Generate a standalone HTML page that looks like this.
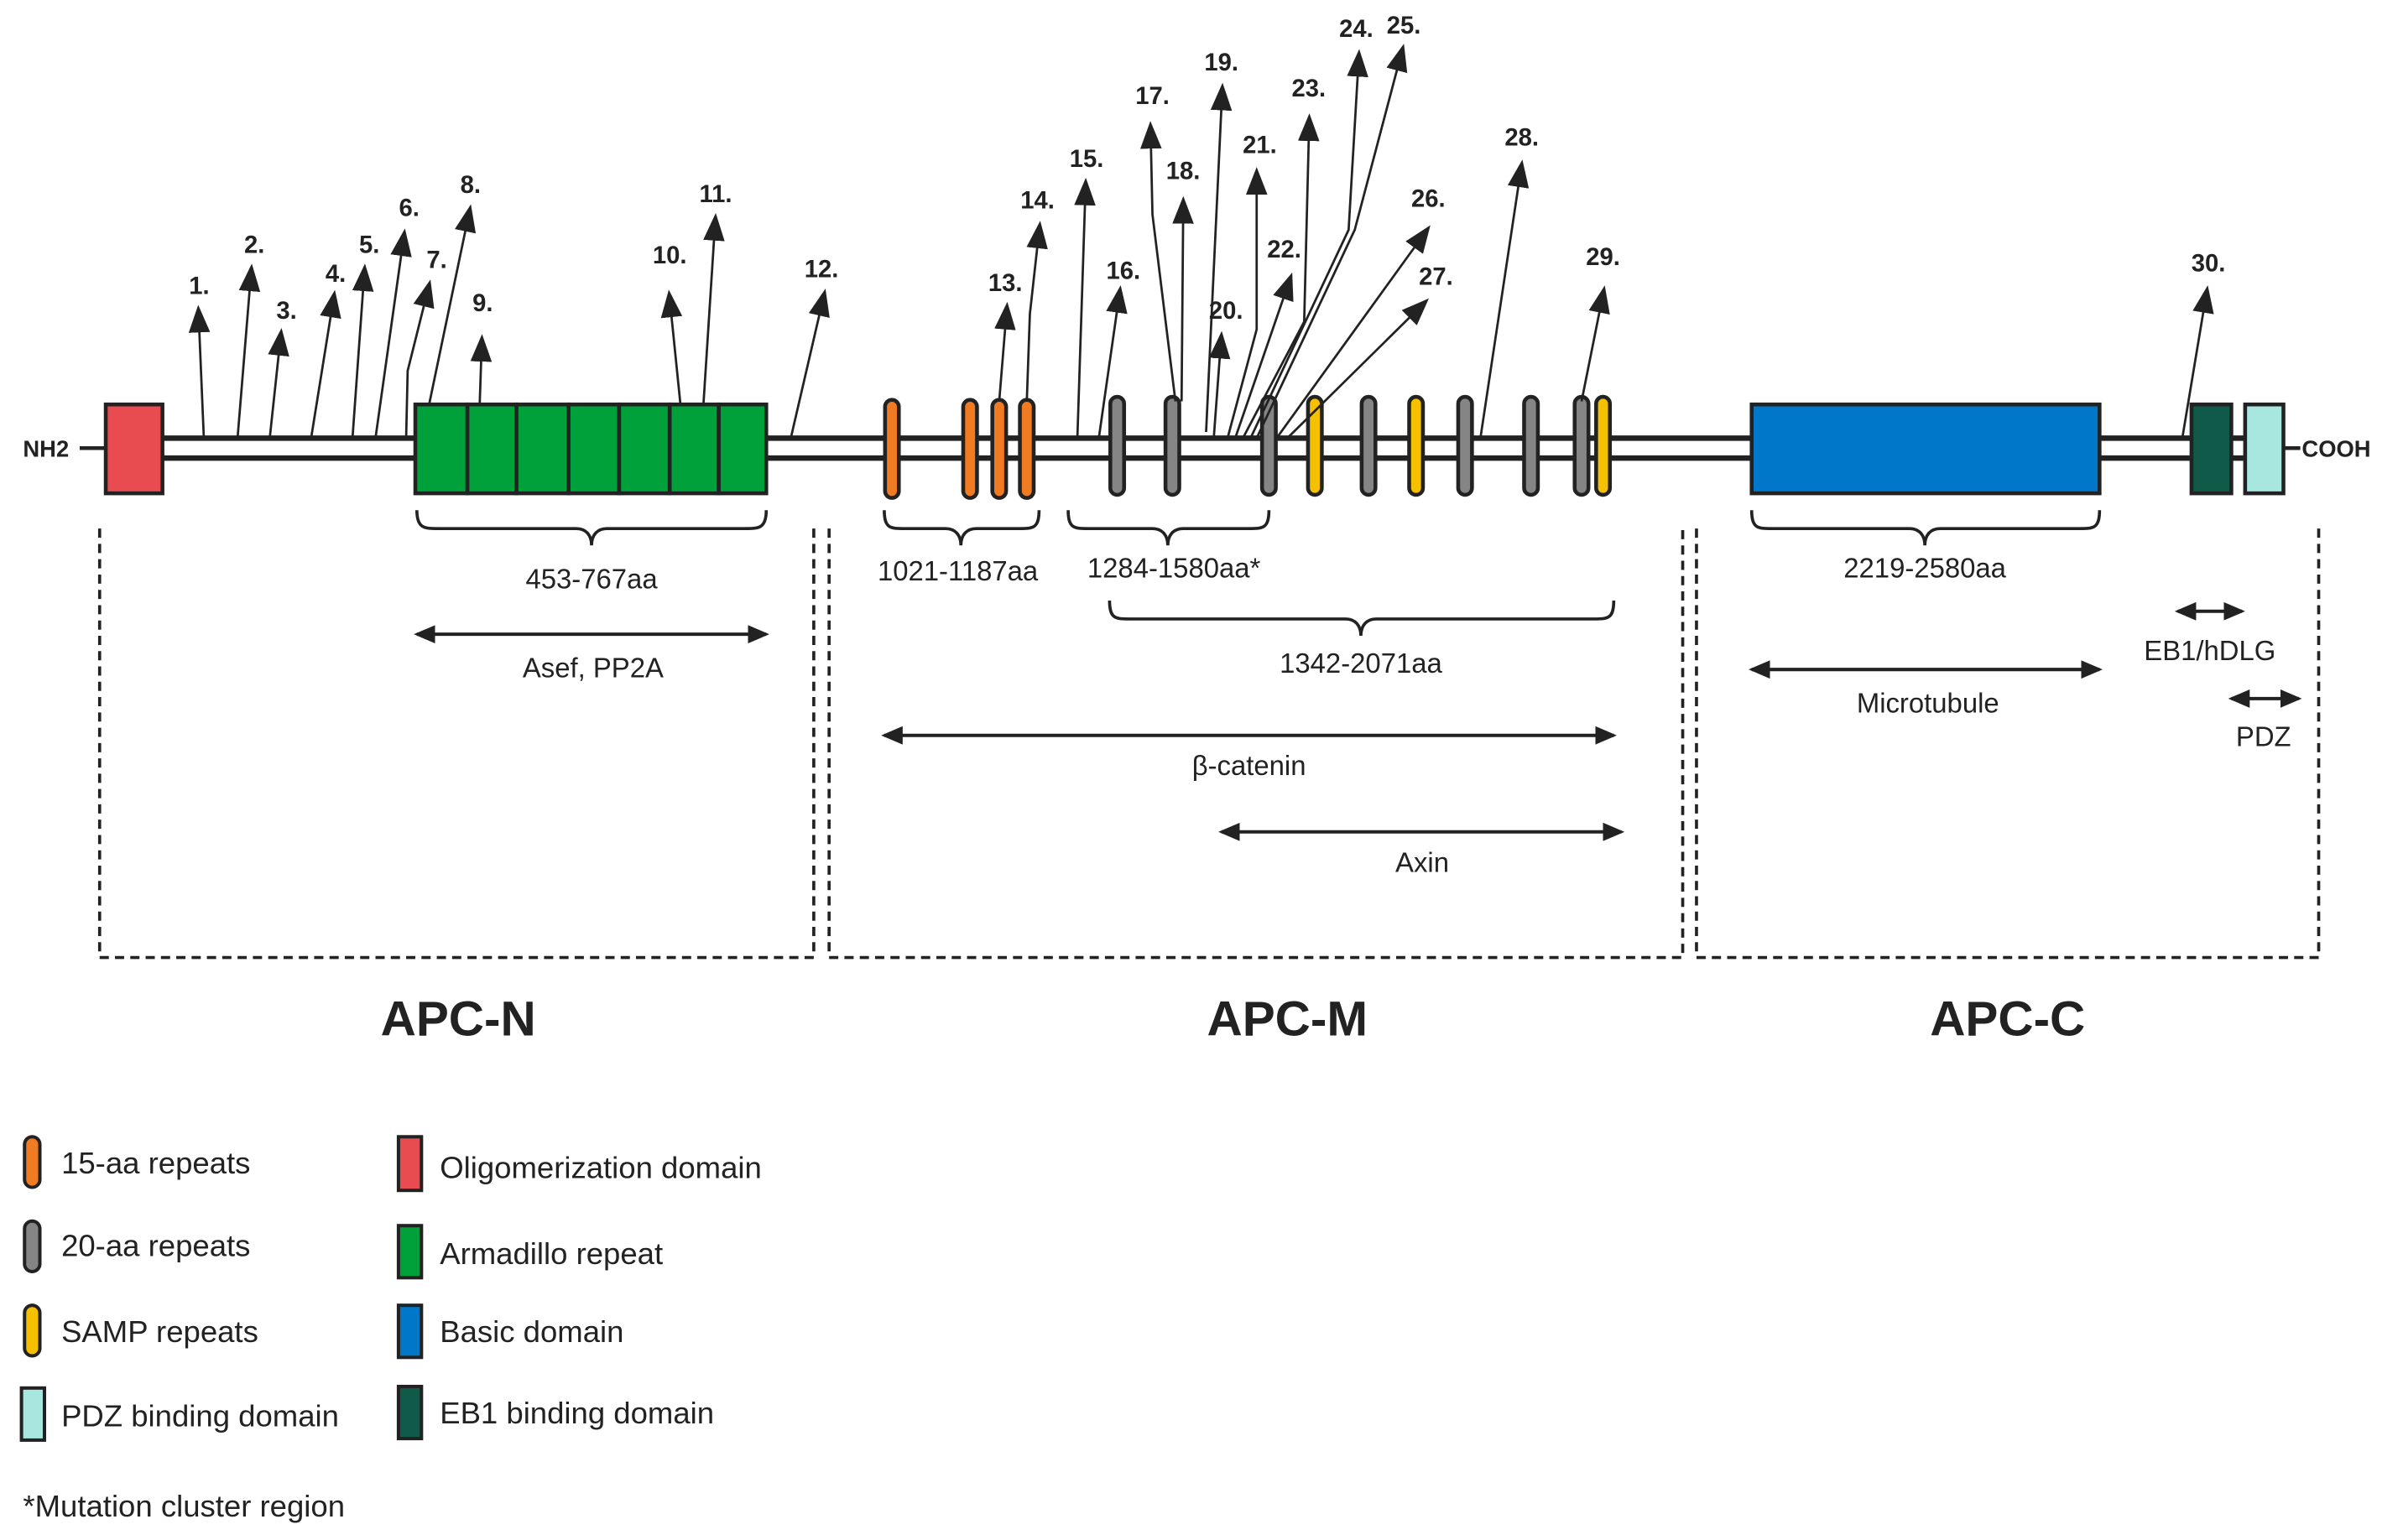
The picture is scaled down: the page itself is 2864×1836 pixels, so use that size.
<!DOCTYPE html>
<html><head><meta charset="utf-8"><style>
html,body{margin:0;padding:0;background:#fff;}
svg{display:block;}
text{font-family:"Liberation Sans",sans-serif;fill:#222;}
.n{font-weight:bold;font-size:16px;text-anchor:middle;}
.l{font-size:18px;text-anchor:middle;}
.g{font-size:20px;}
.t{font-weight:bold;font-size:32px;text-anchor:middle;}
</style></head><body>
<svg width="2864" height="1836" viewBox="0 0 1568 1005.2" xmlns="http://www.w3.org/2000/svg">
<defs>
<marker id="ah" markerUnits="userSpaceOnUse" markerWidth="20" markerHeight="20" refX="2" refY="7" orient="auto" viewBox="0 0 20 14">
<path d="M0,0 L18,7 L0,14 Z" fill="#222"/></marker>
<marker id="dh" markerUnits="userSpaceOnUse" markerWidth="14" markerHeight="12" refX="12" refY="6" orient="auto-start-reverse" viewBox="0 0 14 12">
<path d="M0,0 L14,6 L0,12 Z" fill="#222"/></marker>
</defs>

<!-- backbone -->
<line x1="52" y1="292.5" x2="69" y2="292.5" stroke="#222" stroke-width="2.5"/>
<line x1="1490" y1="292.5" x2="1501" y2="292.5" stroke="#222" stroke-width="2.5"/>
<line x1="104" y1="286" x2="1491" y2="286" stroke="#222" stroke-width="3.5"/>
<line x1="104" y1="299" x2="1491" y2="299" stroke="#222" stroke-width="3.5"/>
<text x="15" y="298" style="font-weight:bold;font-size:15px">NH2</text>
<text x="1502" y="298" style="font-weight:bold;font-size:15px">COOH</text>

<rect x="69" y="264" width="37" height="58" fill="#e84c50" stroke="#222" stroke-width="2.5"/>
<g fill="#00a03a" stroke="#222" stroke-width="2.5">
<rect x="271" y="264" width="34" height="58"/><rect x="305" y="264" width="32" height="58"/>
<rect x="337" y="264" width="34" height="58"/><rect x="371" y="264" width="33" height="58"/>
<rect x="404" y="264" width="33" height="58"/><rect x="437" y="264" width="32" height="58"/>
<rect x="469" y="264" width="31" height="58"/></g>
<g stroke="#222" stroke-width="2.5">
<g fill="#f07b22">
<rect x="577.5" y="261" width="9" height="64" rx="4.5"/><rect x="628.5" y="261" width="9" height="64" rx="4.5"/>
<rect x="647.5" y="261" width="9" height="64" rx="4.5"/><rect x="665.5" y="261" width="9" height="64" rx="4.5"/></g>
<g fill="#858585">
<rect x="724.5" y="259" width="9" height="64" rx="4.5"/><rect x="760.5" y="259" width="9" height="64" rx="4.5"/>
<rect x="823.5" y="259" width="9" height="64" rx="4.5"/><rect x="888.5" y="259" width="9" height="64" rx="4.5"/>
<rect x="951.5" y="259" width="9" height="64" rx="4.5"/><rect x="994.5" y="259" width="9" height="64" rx="4.5"/>
<rect x="1027.5" y="259" width="9" height="64" rx="4.5"/></g>
<g fill="#f5c000">
<rect x="853.5" y="259" width="9" height="64" rx="4.5"/><rect x="919.5" y="259" width="9" height="64" rx="4.5"/>
<rect x="1041.5" y="259" width="9" height="64" rx="4.5"/></g>
<rect x="1143" y="264" width="227" height="58" fill="#0077c8"/>
<rect x="1430" y="264" width="26" height="58" fill="#0f5a48"/>
<rect x="1465" y="264" width="25" height="58" fill="#a8e6e0"/>
</g>

<!-- mutation arrows -->
<g stroke="#222" stroke-width="1.5" fill="none" marker-end="url(#ah)">
<line x1="133" y1="286" x2="130" y2="215"/>
<line x1="155" y1="286" x2="163" y2="188"/>
<line x1="176" y1="286" x2="182" y2="230"/>
<line x1="203" y1="286" x2="216" y2="205"/>
<line x1="230" y1="286" x2="237" y2="188"/>
<line x1="245" y1="286" x2="262" y2="165"/>
<polyline points="265,286 266,242 277,198"/>
<line x1="280" y1="264" x2="304" y2="149"/>
<line x1="313" y1="264" x2="314" y2="234"/>
<line x1="444" y1="264" x2="438" y2="205"/>
<line x1="459" y1="264" x2="466" y2="155"/>
<line x1="516" y1="286" x2="535" y2="204"/>
<line x1="652" y1="262" x2="656" y2="213"/>
<polyline points="670,262 672,205 677,160"/>
<line x1="703" y1="286" x2="708" y2="132"/>
<line x1="717" y1="286" x2="729" y2="202"/>
<polyline points="767,262 752,140 751,95"/>
<line x1="771" y1="262" x2="772" y2="144"/>
<line x1="787" y1="282" x2="797" y2="70"/>
<line x1="792" y1="286" x2="796" y2="232"/>
<polyline points="801,286 820,215 820,125"/>
<line x1="806" y1="286" x2="838" y2="193"/>
<polyline points="811,286 851,210 854,90"/>
<polyline points="816,286 880,150 886,48"/>
<polyline points="820,286 884,150 912,44"/>
<line x1="833" y1="286" x2="924" y2="160"/>
<line x1="840" y1="286" x2="921" y2="206"/>
<line x1="966" y1="286" x2="991" y2="120"/>
<line x1="1032" y1="262" x2="1044" y2="202"/>
<line x1="1424" y1="286" x2="1438" y2="202"/>
</g>
<g class="n">
<text x="130" y="192">1.</text><text x="166" y="165">2.</text><text x="187" y="208">3.</text>
<text x="219" y="184">4.</text><text x="241" y="165">5.</text><text x="267" y="141">6.</text>
<text x="285" y="175">7.</text><text x="307" y="126">8.</text><text x="315" y="203">9.</text>
<text x="437" y="172">10.</text><text x="467" y="132">11.</text><text x="536" y="181">12.</text>
<text x="656" y="190">13.</text><text x="677" y="136">14.</text><text x="709" y="109">15.</text>
<text x="733" y="182">16.</text><text x="752" y="68">17.</text><text x="772" y="117">18.</text>
<text x="797" y="46">19.</text><text x="800" y="208">20.</text><text x="822" y="100">21.</text>
<text x="838" y="168">22.</text><text x="854" y="63">23.</text><text x="885" y="24">24.</text>
<text x="916" y="22">25.</text><text x="932" y="135">26.</text><text x="937" y="186">27.</text>
<text x="993" y="95">28.</text><text x="1046" y="173">29.</text><text x="1441" y="177">30.</text>
</g>

<!-- braces -->
<g stroke="#222" stroke-width="2" fill="none">
<path d="M272,333 C272,345 277,345 286,345 L376,345 C382,345 386,349 386,356 C386,349 390,345 396,345 L486,345 C495,345 500,345 500,333"/>
<path d="M577,333 C577,345 581,345 590,345 L617,345 C623,345 627,349 627,356 C627,349 631,345 637,345 L665,345 C674,345 678,345 678,333"/>
<path d="M697,333 C697,345 701,345 710,345 L752,345 C758,345 762,349 762,356 C762,349 766,345 772,345 L815,345 C824,345 828,345 828,333"/>
<path d="M724,392 C724,404 728,404 737,404 L878,404 C884,404 888,408 888,415 C888,408 892,404 898,404 L1040,404 C1049,404 1053,404 1053,392"/>
<path d="M1143,333 C1143,345 1147,345 1156,345 L1246,345 C1252,345 1256,349 1256,356 C1256,349 1260,345 1266,345 L1357,345 C1366,345 1370,345 1370,333"/>
</g>
<g class="l">
<text x="386" y="384">453-767aa</text><text x="625" y="379">1021-1187aa</text>
<text x="766" y="377">1284-1580aa*</text><text x="888" y="439">1342-2071aa</text>
<text x="1256" y="377">2219-2580aa</text>
</g>

<!-- interaction arrows -->
<g stroke="#222" stroke-width="2.2" marker-start="url(#dh)" marker-end="url(#dh)">
<line x1="272" y1="414" x2="500" y2="414"/>
<line x1="577" y1="480" x2="1053" y2="480"/>
<line x1="797" y1="543" x2="1058" y2="543"/>
<line x1="1143" y1="437" x2="1370" y2="437"/>
<line x1="1421" y1="399" x2="1463" y2="399"/>
<line x1="1456" y1="456" x2="1500" y2="456"/>
</g>
<g class="l">
<text x="387" y="442">Asef, PP2A</text><text x="815" y="506">β-catenin</text>
<text x="928" y="569">Axin</text><text x="1258" y="465">Microtubule</text>
<text x="1442" y="431">EB1/hDLG</text><text x="1477" y="487">PDZ</text>
</g>

<!-- dashed boxes -->
<g stroke="#222" stroke-width="2" stroke-dasharray="6,4" fill="none">
<path d="M65,345 L65,625 L531,625 L531,345"/>
<path d="M541,345 L541,625 L1098,625 L1098,345"/>
<path d="M1107,345 L1107,625 L1513,625 L1513,345"/>
</g>
<text class="t" x="299" y="676">APC-N</text>
<text class="t" x="840" y="676">APC-M</text>
<text class="t" x="1310" y="676">APC-C</text>

<!-- legend -->
<g stroke="#222" stroke-width="2.2">
<rect x="16" y="742" width="10" height="33" rx="5" fill="#f07b22"/>
<rect x="16" y="797" width="10" height="33" rx="5" fill="#858585"/>
<rect x="16" y="852" width="10" height="33" rx="5" fill="#f5c000"/>
<rect x="14" y="906" width="15" height="34" fill="#a8e6e0"/>
<rect x="260" y="742" width="15" height="35" fill="#e84c50"/>
<rect x="260" y="800" width="15" height="34" fill="#00a03a"/>
<rect x="260" y="852" width="15" height="34" fill="#0077c8"/>
<rect x="260" y="905" width="15" height="34" fill="#0f5a48"/>
</g>
<g class="g">
<text x="40" y="766">15-aa repeats</text><text x="40" y="820">20-aa repeats</text>
<text x="40" y="876">SAMP repeats</text><text x="40" y="931">PDZ binding domain</text>
<text x="287" y="769">Oligomerization domain</text><text x="287" y="825">Armadillo repeat</text>
<text x="287" y="876">Basic domain</text><text x="287" y="929">EB1 binding domain</text>
<text x="15" y="990">*Mutation cluster region</text>
</g>
</svg>
</body></html>
